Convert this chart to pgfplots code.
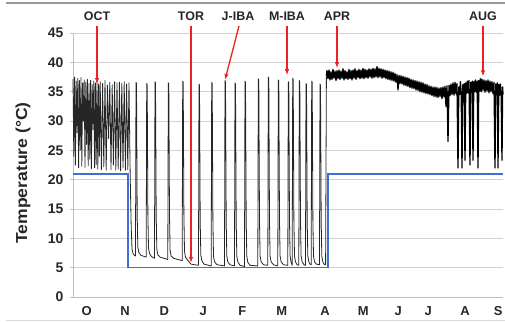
\documentclass[border=0pt]{standalone}
\usepackage{fontspec}
\setmainfont{Liberation Sans}
\usepackage{pgfplots}
\pgfplotsset{compat=1.18}
\usetikzlibrary{arrows.meta}
\definecolor{tbblue}{RGB}{60,112,212}
\definecolor{arrred}{RGB}{238,34,34}
\begin{document}
\begin{tikzpicture}
\useasboundingbox (0bp,0bp) rectangle (505bp,322bp);
\draw[gray!80, line width=1.6bp] (6bp,319bp) -- (505bp,319bp);
\draw[gray!30, line width=0.6bp] (6bp,2bp) -- (505bp,2bp);
\begin{axis}[
 at={(73bp,25bp)}, anchor=south west,
 scale only axis, width=430bp, height=264bp,
 xmin=0,xmax=430,ymin=0,ymax=45,
 clip=false,
 axis x line*=bottom, axis y line*=left,
 axis line style={gray!50, line width=0.8bp},
 ytick={0,5,...,45},
 xtick={13.7,52,91.3,130.3,169.3,208.7,252,290.3,325.3,355.3,392,425.3},
 xticklabels={O,N,D,J,F,M,A,M,J,J,A,S},
 xtick style={draw=none},
 ytick style={draw=gray!50, line width=0.8bp},
 tick align=outside, major tick length=3bp,
 ymajorgrids, grid style={gray!35, line width=0.8bp},
 /pgf/number format/assume math mode=true,
 yticklabel style={font=\bfseries\fontsize{14}{14}\selectfont, text=black!85, xshift=-3bp},
 xticklabel style={font=\bfseries\fontsize{13}{13}\selectfont, text=black!85, yshift=-3bp},
 ylabel={\scalebox{1.1}[1]{Temperature (°C)}},
 ylabel style={font=\bfseries\fontsize{16}{16}\selectfont, text=black!85, at={(axis description cs:-0.116,0.47)}, anchor=center},
]
\addplot[tbblue, line width=1.4bp] coordinates {(0,21) (55,21) (55,5) (255,5) (255,21) (430,21)};
\addplot[black!85, line width=0.8bp, line join=round] coordinates {
(0,37.2) (0.8,24) (1.6,37.5) (2.4,22.5) (3.2,36.8) (4,28) (4.8,37.3) (5.6,22) (6.4,36.9) (7.2,25)
(8,37.4) (8.8,22.3) (9.6,36.5) (10.4,30) (11.2,37.0) (12,22.1) (12.8,36.6) (13.6,26) (14.4,37.1) (15.2,22.4)
(16,36.4) (16.8,23.5) (17.6,36.9) (18.4,21.9) (19.2,36.2) (20,28.5) (20.8,36.8) (21.6,22.0) (22.4,36.5) (23.2,22.6)
(24,37.0) (24.8,21.8) (25.6,36.3) (26.4,24) (27.2,36.7) (28.4,21.7) (29.6,36.4) (30.8,22.2) (32,36.9) (33.2,21.6)
(34.4,36.1) (35.6,27) (36.8,36.6) (38,21.7) (39.2,36.2) (40.4,22.5) (41.6,36.7) (42.8,21.6) (44,36.5) (45.2,21.8)
(46.4,36.6) (47.6,21.5) (48.8,36.4) (50,22.0) (51.2,36.7) (52.4,21.6) (53.6,36.3) (54.8,21.7) (56,36.5) (57.2,20.5)
(58.2,12) (59,8.2) (60,7.4) (61.5,7.1) (62.5,7.0)
(63,36.6) (63.5,36.4) (64.2,14) (64.8,8.6) (65.8,7.6) (68,7.1) (73.2,6.8)
(73.7,36.4) (74.2,36.2) (74.9,14) (75.5,8.4) (76.5,7.4) (78.5,6.9) (81.5,6.6)
(82,36.7) (82.5,36.5) (83.2,14) (83.8,8.2) (84.8,7.2) (87,6.8) (94.8,6.4)
(95.3,36.5) (95.8,36.3) (96.5,14) (97.1,8.0) (98.1,7.0) (100.5,6.6) (109.2,6.2)
(109.7,36.8) (110.2,36.6) (110.9,14) (111.5,7.8) (112.5,6.8) (115,6.2) (118,5.6) (125.5,5.4)
(126,36.3) (126.5,36.1) (127.2,13) (127.8,7.2) (128.8,6.2) (131,5.6) (138.2,5.3)
(138.7,36.6) (139.2,36.4) (139.9,13) (140.5,7.0) (141.5,6.0) (144,5.5) (151.5,5.3)
(152,36.9) (152.5,36.7) (153.2,13) (153.8,7.0) (154.8,6.0) (157,5.5) (161.5,5.3)
(162,36.5) (162.5,36.3) (163.2,13) (163.8,7.0) (164.8,6.0) (167,5.4) (171.5,5.2)
(172,36.8) (172.5,36.6) (173.2,13) (173.8,7.0) (174.8,5.9) (177,5.4) (184.8,5.3)
(185.3,37.2) (185.8,37.0) (186.5,13) (187.1,7.0) (188.1,6.0) (190.5,5.5) (194.8,5.4)
(195.3,37.5) (195.8,37.3) (196.5,13) (197.1,7.0) (198.1,6.0) (200.5,5.5) (204.8,5.3)
(205.3,37.0) (205.8,36.8) (206.5,13) (207.1,7.0) (208.1,6.0) (210.5,5.5) (214.8,5.4)
(215.3,36.7) (215.8,36.5) (216.5,13) (217.1,7.0) (218.1,5.9) (219.2,5.4)
(219.7,37.3) (220.2,37.1) (220.9,13) (221.5,7.0) (222.5,6.0) (224,5.5) (225.8,5.4)
(226.3,36.9) (226.8,36.7) (227.5,13) (228.1,7.0) (229.1,6.0) (231,5.5) (232.5,5.4)
(233,36.4) (233.5,36.2) (234.2,13) (234.8,7.0) (235.8,6.0) (237,5.6) (238.2,5.5)
(238.7,36.8) (239.2,36.6) (239.9,13) (240.5,7.0) (241.5,6.0) (243.5,5.6) (246.5,5.5)
(247,36.3) (247.5,36.1) (248.2,13) (248.8,7.0) (249.8,6.0) (251,5.6) (252.6,5.5)
(253.4,37.6)
};
\addplot[black, line width=1.3bp, line join=round] coordinates {
(253.4,37.6)
(254,38.6) (255,37.2) (256,38.7) (257,37.0) (258,38.4) (259,37.1) (260,38.8) (261,37.3) (262,38.5) (263,36.9)
(264,38.6) (265,37.2) (266,38.7) (267,37.1) (268,38.5) (269,37.3) (270,38.9) (271,37.0) (272,38.6) (273,37.2)
(274,38.4) (275,37.1) (276,38.8) (277,37.2) (278,38.6) (279,37.0) (280,38.7) (281,37.3) (282,38.9) (283,37.1)
(284,38.6) (285,37.4) (286,38.8) (287,37.2) (288,38.7) (289,37.3) (290,39.0) (291,37.2) (292,38.8) (293,37.4)
(294,38.7) (295,37.3) (296,38.9) (297,37.5) (298,38.8) (299,37.3) (300,39.0) (301,37.4) (302,38.9) (303,37.5)
(304,39.3) (305,37.4) (306,39.0) (307,37.5) (308,38.9) (309,37.3) (310,38.8) (311,37.4) (312,38.7) (313,37.2)
(314,38.6) (315,37.1) (316,38.5) (317,37.0) (318,38.4) (319,36.9) (320,38.3) (321,36.8) (322,38.1) (323,36.6)
(324,37.9) (325,35.3) (326,37.8) (327,36.4) (328,37.7) (329,36.3) (330,37.6) (331,36.1) (332,37.5) (333,36.0)
(334,37.4) (335,35.9) (336,37.3) (337,35.7) (338,37.1) (339,35.6) (340,37.0) (341,35.5) (342,36.9) (343,35.3)
(344,36.8) (345,35.2) (346,36.7) (347,35.0) (348,36.6) (349,34.9) (350,36.5) (351,34.8) (352,36.3) (353,34.7)
(354,36.2) (355,34.6) (356,36.0) (357,34.5) (358,35.9) (359,34.3) (360,35.8) (361,34.2) (362,35.8) (363,34.1)
(364,35.7) (365,34.0) (366,35.6) (367,34.2) (368,35.7) (369,33.8) (370,35.8) (371,34.1) (372,35.9) (373,32.5)
(374,36.0) (375,26.5) (376,36.1) (377,34.3) (378,36.3) (379,34.5) (380,36.5) (381,34.4) (382,36.6) (383,34.6)
(384,36.4) (385,22.0) (385.8,35.8) (386.6,34.5) (387.4,36.7) (388.2,34.8) (389,22.0) (389.8,36.2) (390.6,34.6) (391.2,36.4)
(392,23.3) (392.8,36.5) (393.6,34.7) (394.4,36.8) (395.2,34.8) (396,36.9) (397,22.5) (397.8,36.6) (398.6,34.9) (399.3,36.8)
(400,23.3) (400.8,36.7) (401.6,35.0) (402.4,37.0) (403.2,34.9) (404.2,36.8) (405,22.0) (405.8,36.9) (406.6,35.1) (407.4,37.2)
(408.2,35.0) (409,37.1) (410,35.2) (411,37.0) (412,34.9) (413,36.9) (414,35.1) (415,37.0) (416,34.8) (417,36.8)
(418,35.0) (419,36.7) (420,34.7) (421,36.6) (422,22.0) (422.8,36.3) (423.6,34.5) (424.4,36.5) (425,22.0) (425.8,36.2)
(426.6,34.4) (427.4,36.3) (428.2,34.2) (429,23.3) (429.6,35.8) (430,34.5)
};
\tikzset{arr/.style={arrred, line width=1.3bp, -{Latex[length=6bp,width=4.5bp]}},
 lab/.style={font=\bfseries\fontsize{12.5}{12.5}\selectfont, text=black!85}}
\draw[arr] (axis cs:24,46.2) -- (axis cs:24,36.3);
\node[lab] at (axis cs:24,47.8) {OCT};
\draw[arr] (axis cs:118,46.2) -- (axis cs:118,5.8);
\node[lab] at (axis cs:118,47.8) {TOR};
\draw[arr] (axis cs:166,46.2) -- (axis cs:152,37.0);
\node[lab] at (axis cs:165,47.8) {J-IBA};
\draw[arr] (axis cs:214,46.2) -- (axis cs:214,37.8);
\node[lab] at (axis cs:214,47.8) {M-IBA};
\draw[arr] (axis cs:264,46.2) -- (axis cs:264,39.0);
\node[lab] at (axis cs:264,47.8) {APR};
\draw[arr] (axis cs:410,46.2) -- (axis cs:410,37.6);
\node[lab] at (axis cs:410,47.8) {AUG};
\end{axis}
\end{tikzpicture}
\end{document}
